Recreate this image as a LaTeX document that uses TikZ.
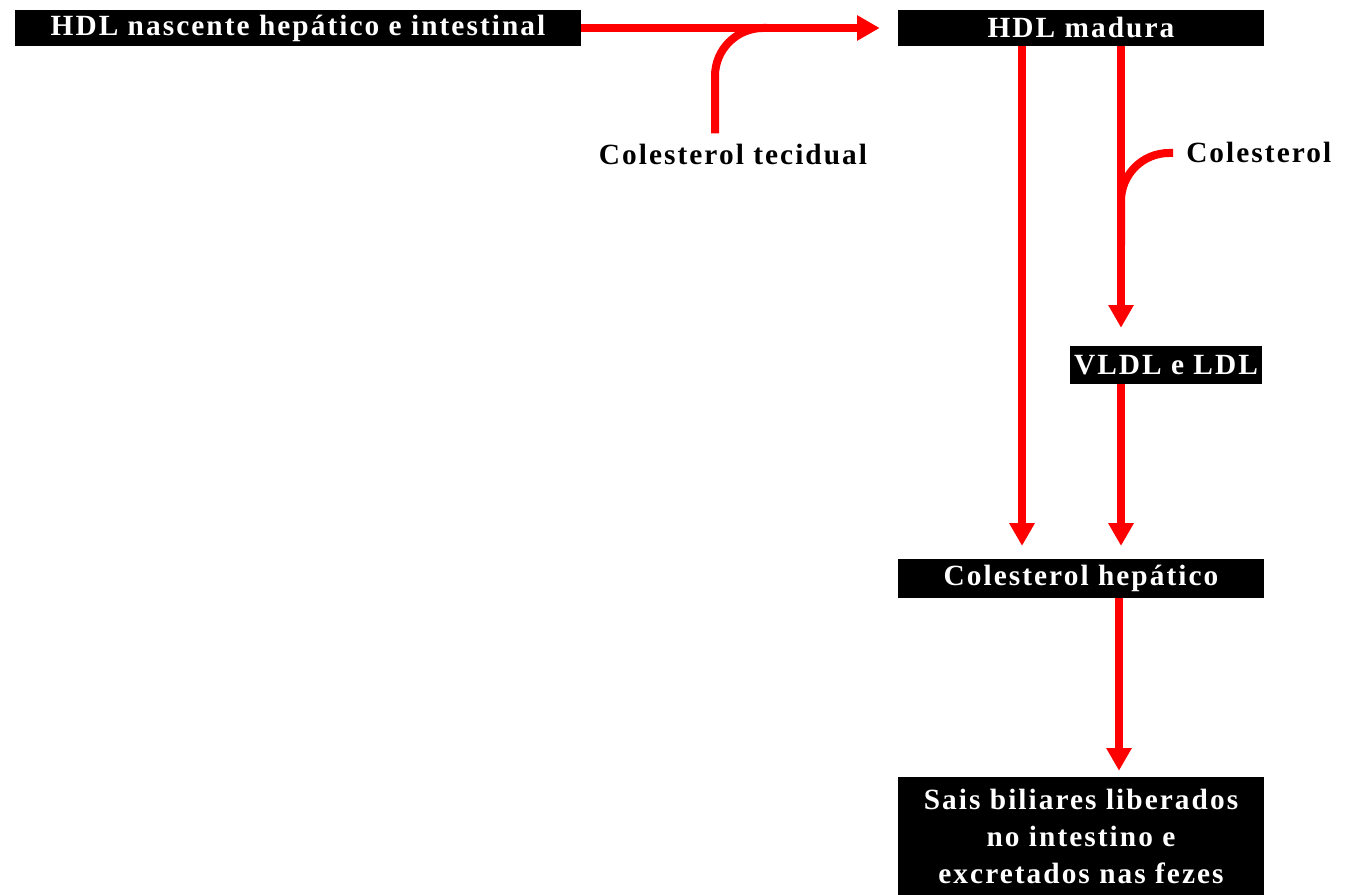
\documentclass[tikz,border=0pt]{standalone}
\usepackage{fontspec}
\setmainfont{Liberation Serif}[LetterSpace=7]
\usetikzlibrary{arrows.meta,calc}
\tikzset{
  blackbox/.style={fill=black,text=white,font=\bfseries\fontsize{22}{27.75}\selectfont,inner sep=0pt,align=center},
  plain/.style={font=\bfseries\fontsize{22}{24}\selectfont,inner sep=0pt},
  flow/.style={red,line width=6pt,-{Triangle[length=17pt,width=18pt]}},
  feed/.style={red,line width=6pt,rounded corners=36pt}
}
\begin{document}
\begin{tikzpicture}[x=0.75pt,y=-0.75pt]
    \useasboundingbox (0,0) rectangle (1345,895);
    \node[blackbox,minimum width=424.5pt,minimum height=27pt] (hdlnasc) at (298,28) {HDL nascente hepático e intestinal};
    \node[blackbox,minimum width=274.5pt,minimum height=27pt] (hdlmad) at (1081,28) {HDL madura};
    \node[plain] (coltec) at (733,155) {Colesterol tecidual};
    \node[plain,anchor=west] (col) at (1186,152) {Colesterol};
    \node[blackbox,minimum width=144pt,minimum height=28.5pt] (vldl) at (1166,365) {VLDL e LDL};
    \node[blackbox,minimum width=274.5pt,minimum height=29pt] (colhep) at (1081,578.5) {Colesterol hepático};
    \node[blackbox,minimum width=274.5pt,minimum height=88.5pt] (sais) at (1081,836) {Sais biliares liberados\\no intestino e\\excretados nas fezes};
    % HDL nascente -> HDL madura, com colesterol tecidual
    \draw[flow,shorten >=13.5pt] (hdlnasc.east) -- (hdlmad.west);
    \draw[feed] ($(coltec.north)+(-18,-11)$) |- ($(hdlnasc.east)!0.587!(hdlmad.west)$);
    % HDL madura -> figado
    \draw[flow,shorten >=9.75pt] ($(hdlmad.south)+(-59,0)$) -- ($(colhep.north)+(-59,0)$);
    \draw[flow,shorten >=13.5pt] ($(hdlmad.south)+(40,0)$) -- ($(vldl.north)+(-45,0)$);
    \draw[feed] ($(col.west)+(-13,1)$) -| ($(vldl.north)+(-45,-100)$);
    \draw[flow,shorten >=9.75pt] ($(vldl.south)+(-45,0)$) -- ($(colhep.north)+(40,0)$);
    \draw[flow,shorten >=4.5pt] ($(colhep.south)+(38,0)$) -- ($(sais.north)+(38,0)$);
\end{tikzpicture}
\end{document}
